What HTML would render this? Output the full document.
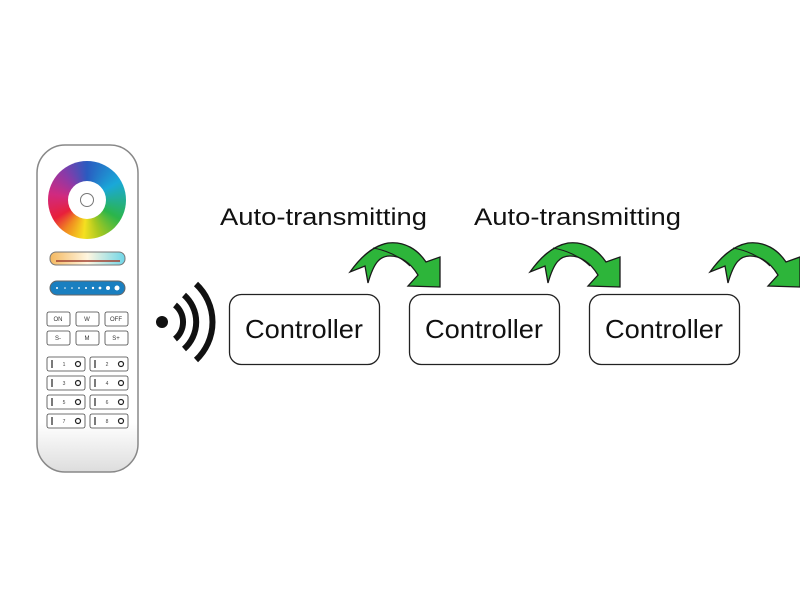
<!DOCTYPE html>
<html><head><style>
body{margin:0;background:#fff;width:800px;height:600px;overflow:hidden;position:relative}
#wheel{position:absolute;left:48px;top:161px;width:78px;height:78px;border-radius:50%;
background:conic-gradient(from 0deg,#2a5bc0,#1aa8d8 60deg,#2bb54a 120deg,#a8c820 160deg,#f5e020 185deg,#f08a20 215deg,#e8203a 240deg,#d02a80 280deg,#8a3aa8 320deg,#2a5bc0 360deg)}
#hole{position:absolute;left:20px;top:20px;width:38px;height:38px;border-radius:50%;background:#fff}
#dot{position:absolute;left:12px;top:12px;width:14px;height:14px;border-radius:50%;border:1px solid #777;box-sizing:border-box}
</style></head><body>
<svg width="800" height="600" xmlns="http://www.w3.org/2000/svg" font-family="Liberation Sans, sans-serif" style="position:absolute;left:0;top:0">
<defs>
<linearGradient id="rb" x1="0" x2="0" y1="0" y2="1">
<stop offset="0" stop-color="#fff"/><stop offset="0.85" stop-color="#fff"/><stop offset="1" stop-color="#ddd"/></linearGradient>
<linearGradient id="ct" x1="0" x2="1"><stop offset="0" stop-color="#f4b860"/><stop offset="0.5" stop-color="#fff6e0"/><stop offset="1" stop-color="#6fd6e8"/></linearGradient>
<g id="arrow">
<path d="M350,272 C360,258 372,246 388,243 C405,241 418,250 426,262 L440,257 L440,287 L408,286 L418,275 C410,262 400,256 390,256 C380,256 374,262 368,283 L365,266 Z" fill="#2db53a" stroke="#1a1a1a" stroke-width="1.3"/>
<path d="M373,248 C385,250 400,256 410,266" fill="none" stroke="#1a1a1a" stroke-width="1"/>
</g>
</defs>
<rect x="37" y="145" width="101" height="327" rx="28" fill="url(#rb)" stroke="#888" stroke-width="1.5"/>
<rect x="50" y="252" width="75" height="13" rx="6" fill="url(#ct)" stroke="#777"/>
<line x1="56" y1="261" x2="120" y2="261" stroke="#a04030" stroke-width="1.5"/>
<rect x="50" y="281" width="75" height="14" rx="7" fill="#1a7fc0" stroke="#666"/>
<g fill="#fff"><circle cx="57" cy="288" r="1"/><circle cx="65" cy="288" r="0.8"/><circle cx="72" cy="288" r="0.8"/><circle cx="79" cy="288" r="0.9"/><circle cx="86" cy="288" r="1"/><circle cx="93" cy="288" r="1.2"/><circle cx="100" cy="288" r="1.4"/><circle cx="108" cy="288" r="2"/><circle cx="117" cy="288" r="2.5"/></g>
<g fill="#555" stroke="#444" stroke-width="0.8">
<rect x="47" y="312" width="23" height="14" rx="2" fill="#fff"/><rect x="76" y="312" width="23" height="14" rx="2" fill="#fff"/><rect x="105" y="312" width="23" height="14" rx="2" fill="#fff"/>
<rect x="47" y="331" width="23" height="14" rx="2" fill="#fff"/><rect x="76" y="331" width="23" height="14" rx="2" fill="#fff"/><rect x="105" y="331" width="23" height="14" rx="2" fill="#fff"/>
<rect x="47" y="357" width="38" height="14" rx="2" fill="#fff"/><rect x="90" y="357" width="38" height="14" rx="2" fill="#fff"/>
<rect x="47" y="376" width="38" height="14" rx="2" fill="#fff"/><rect x="90" y="376" width="38" height="14" rx="2" fill="#fff"/>
<rect x="47" y="395" width="38" height="14" rx="2" fill="#fff"/><rect x="90" y="395" width="38" height="14" rx="2" fill="#fff"/>
<rect x="47" y="414" width="38" height="14" rx="2" fill="#fff"/><rect x="90" y="414" width="38" height="14" rx="2" fill="#fff"/>
</g>
<g stroke="#222" stroke-width="1.2" fill="none">
<path d="M52,360v8M52,379v8M52,398v8M52,417v8M95,360v8M95,379v8M95,398v8M95,417v8"/>
<circle cx="78" cy="364" r="2.5"/><circle cx="78" cy="383" r="2.5"/><circle cx="78" cy="402" r="2.5"/><circle cx="78" cy="421" r="2.5"/>
<circle cx="121" cy="364" r="2.5"/><circle cx="121" cy="383" r="2.5"/><circle cx="121" cy="402" r="2.5"/><circle cx="121" cy="421" r="2.5"/>
</g>
<g font-size="5" fill="#444" text-anchor="middle">
<text x="64" y="366">1</text><text x="107" y="366">2</text><text x="64" y="385">3</text><text x="107" y="385">4</text>
<text x="64" y="404">5</text><text x="107" y="404">6</text><text x="64" y="423">7</text><text x="107" y="423">8</text>
</g>
<g font-size="6" fill="#333" text-anchor="middle">
<text x="58" y="321">ON</text><text x="87" y="321">W</text><text x="116" y="321">OFF</text>
<text x="58" y="340">S-</text><text x="87" y="340">M</text><text x="116" y="340">S+</text>
</g>
<circle cx="162" cy="322" r="6" fill="#111"/>
<g fill="none" stroke="#111" stroke-width="6">
<path d="M175,305 A22,22 0 0 1 175,339"/>
<path d="M184,295 A36,36 0 0 1 184,349"/>
<path d="M196,284 A52,52 0 0 1 196,360"/>
</g>
<g fill="#fff" stroke="#222" stroke-width="1.3">
<rect x="229.5" y="294.5" width="150" height="70" rx="12"/>
<rect x="409.5" y="294.5" width="150" height="70" rx="12"/>
<rect x="589.5" y="294.5" width="150" height="70" rx="12"/>
</g>
<g font-size="26" fill="#111">
<text x="245" y="338" textLength="118" lengthAdjust="spacingAndGlyphs">Controller</text>
<text x="425" y="338" textLength="118" lengthAdjust="spacingAndGlyphs">Controller</text>
<text x="605" y="338" textLength="118" lengthAdjust="spacingAndGlyphs">Controller</text>
</g>
<g font-size="24" fill="#111">
<text x="220" y="225" textLength="207" lengthAdjust="spacingAndGlyphs">Auto-transmitting</text>
<text x="474" y="225" textLength="207" lengthAdjust="spacingAndGlyphs">Auto-transmitting</text>
</g>
<use href="#arrow"/>
<use href="#arrow" transform="translate(180,0)"/>
<use href="#arrow" transform="translate(360,0)"/>
</svg>
<div id="wheel"><div id="hole"><div id="dot"></div></div></div>
</body></html>
